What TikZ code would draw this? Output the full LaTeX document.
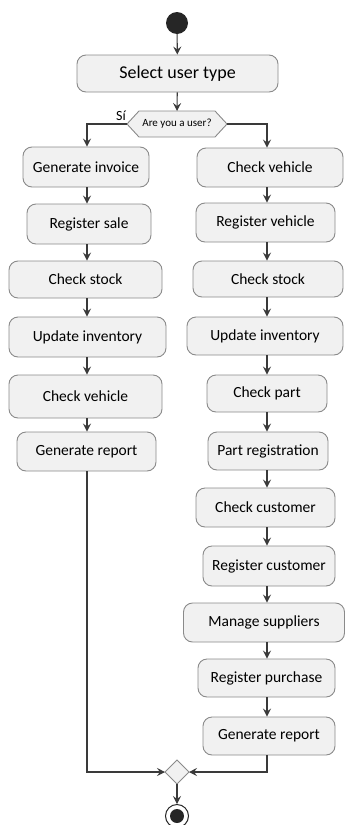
\documentclass[tikz,border=0pt]{standalone}
\usepackage{fontspec}
\setmainfont{Carlito}
\usetikzlibrary{arrows.meta}
\definecolor{boxfill}{HTML}{F1F1F1}
\definecolor{boxline}{HTML}{8A8A8A}
\definecolor{flow}{HTML}{3A3A3A}
\begin{document}
\begin{tikzpicture}[x=1pt,y=-1pt,
  actbox/.style={draw=boxline,fill=boxfill,rounded corners=9pt,line width=0.9pt,
    inner sep=0pt,font=\fontsize{15.5}{17}\selectfont,text=black},
  shapeline/.style={draw=boxline,fill=boxfill,line width=0.9pt},
  flowline/.style={draw=flow,line width=1.1pt},
  flowarrow/.style={flowline,-{Stealth[length=8pt,width=8pt,inset=3pt]}}]
\useasboundingbox (0,0) rectangle (345,825);
% start
\node[circle,fill=black!85,minimum size=22pt,inner sep=0pt] (start) at (177,23) {};
\node[actbox,minimum width=201pt,minimum height=37pt,font=\fontsize{18}{20}\selectfont] (sel) at (177.5,73.5) {Select user type};
% decision hexagon
\coordinate (decL) at (127,124);
\coordinate (decR) at (227,124);
\coordinate (decT) at (177,111);
\draw[shapeline] (decL) -- (139,111) -- (215,111) -- (decR) -- (215,137) -- (139,137) -- cycle;
\node[inner sep=0pt,font=\fontsize{11}{12}\selectfont] (dec) at (177,124) {Are you a user?};
\node[inner sep=0pt,font=\fontsize{14}{15}\selectfont] (si) at (121,116) {Sí};
\coordinate (colL) at (87,0);
\coordinate (colR) at (267,0);
% left column
\node[actbox,minimum width=126pt,minimum height=40pt] (inv) at (86,167) {Generate invoice};
\node[actbox,minimum width=124pt,minimum height=40pt] (sale) at (89,224) {Register sale};
\node[actbox,minimum width=153pt,minimum height=37pt] (stockL) at (85.5,279.5) {Check stock};
\node[actbox,minimum width=157pt,minimum height=40pt] (invtL) at (87.5,337) {Update inventory};
\node[actbox,minimum width=153pt,minimum height=43pt] (vehL) at (85.5,396.5) {Check vehicle};
\node[actbox,minimum width=139pt,minimum height=39pt] (repL) at (86.5,451.5) {Generate report};
% right column
\node[actbox,minimum width=146pt,minimum height=39pt] (vehR) at (270,167.5) {Check vehicle};
\node[actbox,minimum width=139pt,minimum height=39pt] (regveh) at (265.5,222.5) {Register vehicle};
\node[actbox,minimum width=150pt,minimum height=36pt] (stockR) at (268,279) {Check stock};
\node[actbox,minimum width=156pt,minimum height=38pt] (invtR) at (265,336) {Update inventory};
\node[actbox,minimum width=120pt,minimum height=37pt] (part) at (267,393.5) {Check part};
\node[actbox,minimum width=120pt,minimum height=38pt] (partreg) at (268,451) {Part registration};
\node[actbox,minimum width=139pt,minimum height=39pt] (cust) at (265.5,507.5) {Check customer};
\node[actbox,minimum width=132pt,minimum height=40pt] (regcust) at (269,566) {Register customer};
\node[actbox,minimum width=161pt,minimum height=39pt] (supp) at (264,622.5) {Manage suppliers};
\node[actbox,minimum width=137pt,minimum height=38pt] (purch) at (266.5,678) {Register purchase};
\node[actbox,minimum width=132pt,minimum height=38pt] (repR) at (269,736) {Generate report};
% merge diamond and end
\coordinate (mL) at (165,772);
\coordinate (mR) at (189,772);
\coordinate (mT) at (177,760);
\coordinate (mB) at (177,784);
\draw[shapeline] (mL) -- (mT) -- (mR) -- (mB) -- cycle;
\node[circle,draw=black!85,line width=1pt,minimum size=23pt,inner sep=0pt] (stop) at (177,816) {};
\node[circle,fill=black!85,minimum size=14pt,inner sep=0pt] (stopdot) at (stop) {};
% connectors
\draw[flowarrow] (start) -- (sel);
\draw[flowarrow] (sel) -- (decT);
\draw[flowarrow] (decL) -| (inv.north -| colL);
\draw[flowarrow] (decR) -| (vehR.north -| colR);
\foreach \a/\b in {inv/sale,sale/stockL,stockL/invtL,invtL/vehL,vehL/repL}
  \draw[flowarrow] (\a.south -| colL) -- (\b.north -| colL);
\foreach \a/\b in {vehR/regveh,regveh/stockR,stockR/invtR,invtR/part,part/partreg,partreg/cust,cust/regcust,regcust/supp,supp/purch,purch/repR}
  \draw[flowarrow] (\a.south -| colR) -- (\b.north -| colR);
\draw[flowarrow] (repL.south -| colL) |- (mL);
\draw[flowarrow] (repR.south -| colR) |- (mR);
\draw[flowarrow] (mB) -- (stop);
\end{tikzpicture}
\end{document}
